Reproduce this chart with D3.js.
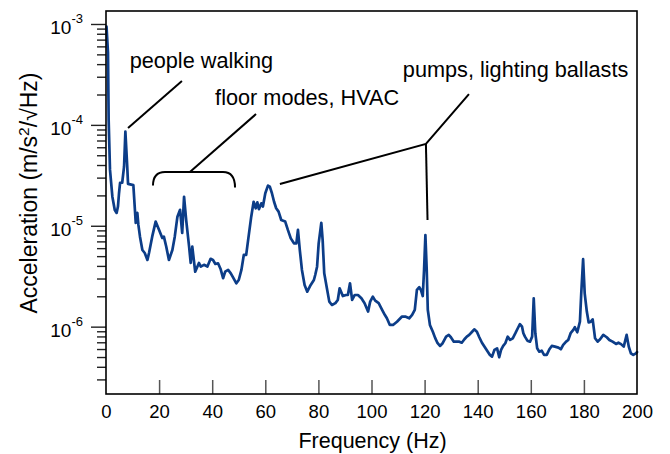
<!DOCTYPE html>
<html><head><meta charset="utf-8">
<script src="https://cdn.jsdelivr.net/npm/d3@7"></script>
<style>
body{margin:0;background:#fff}
svg{display:block}
text{font-family:"Liberation Sans",Arial,Helvetica,sans-serif;fill:#000}
</style>
</head><body>
<svg id="chart" width="670" height="454"></svg>
<script>
// ---- data ----
const freqHz = [
  0.2, 0.75, 1.0, 1.5, 2.4, 3.3, 4.0, 4.5, 4.9, 5.3, 6.1, 6.8, 7.3, 8.0, 8.3,
  10.3, 11.2, 11.8, 12.2, 12.8, 13.7, 14.6, 15.6, 16.2, 17.4, 18.7, 20.0,
  21.2, 21.8, 22.7, 23.7, 25.0, 25.9, 26.9, 27.9, 28.7, 29.4, 30.2, 31.3, 31.9, 32.5, 33.6, 35.0, 35.7, 36.9, 38.2, 39.4,
  40.3, 41.2, 42.2, 43.2, 44.1, 44.9, 46.0, 47.0, 47.8, 49.1, 50.0, 51.0, 51.9, 52.8, 53.7, 54.7, 55.6, 56.4, 57.0, 57.6, 58.5, 59.1,
  60.0, 61.0, 61.7, 62.5, 63.3, 64.1, 65.0, 66.0, 67.5, 68.5, 69.6, 70.8, 71.7, 72.3, 73.0, 73.8, 74.8, 75.8, 77.1, 78.3, 78.8, 79.5,
  80.1, 81.1, 81.6, 82.2, 83.2, 84.1, 85.1, 86.4, 87.3, 88.0, 89.2, 90.4, 91.1, 91.9, 92.7, 93.7, 94.9, 96.2, 97.4, 98.7, 99.5,
  100.5, 101.4, 102.7, 104.0, 105.0, 105.8, 106.9, 108.1, 109.6, 111.5, 112.7, 114.2, 115.3, 116.3, 117.1, 118.0, 118.6, 119.3, 119.8,
  120.3, 120.8, 121.2, 122.0, 123.1, 124.0, 124.9, 125.8, 126.8, 128.1, 129.1, 129.9, 131.0, 132.1, 133.1, 134.0, 135.0, 135.9, 136.8, 137.9, 138.7, 139.7,
  140.6, 141.6, 142.7, 143.8, 144.6, 145.4, 146.3, 147.3, 148.1, 148.8, 149.6, 150.4, 151.3, 152.2, 153.2, 154.2, 155.1, 155.9, 156.7, 157.2, 157.8, 158.7, 159.7,
  160.5, 161.1, 161.7, 162.4, 163.2, 164.1, 165.0, 166.0, 167.0, 167.9, 169.1, 170.4, 171.3, 172.2, 173.3, 174.1, 175.0, 176.0, 176.6, 177.5, 178.5, 179.0, 179.7,
  180.3, 181.1, 181.8, 182.6, 183.3, 184.2, 185.2, 186.1, 187.3, 188.6, 189.6, 190.8, 192.1, 193.0, 194.0, 195.0, 196.1, 196.9, 197.7, 198.6, 199.6, 200.0
];
const accel = [
  9.4e-4, 5.2e-4, 1.12e-4, 3.6e-5, 1.94e-5, 1.43e-5, 1.34e-5, 1.55e-5, 2.1e-5, 2.66e-5, 2.67e-5, 3.85e-5, 8.6e-5, 3.85e-5, 2.6e-5,
  2.53e-5, 1.07e-5, 1.34e-5, 1.02e-5, 7.8e-6, 5.75e-6, 5.37e-6, 4.58e-6, 5.37e-6, 7.8e-6, 1.10e-5, 9.1e-6,
  7.57e-6, 7.8e-6, 6.2e-6, 4.58e-6, 5.75e-6, 7.8e-6, 1.23e-5, 1.44e-5, 8.5e-6, 1.94e-5, 1.14e-5, 6.2e-6, 4.28e-6, 6.2e-6, 3.5e-6, 4.28e-6, 3.94e-6, 4.1e-6, 3.94e-6, 4.7e-6,
  4.58e-6, 4.18e-6, 4.25e-6, 3.7e-6, 3.02e-6, 3.51e-6, 3.65e-6, 3.38e-6, 3.09e-6, 2.69e-6, 2.9e-6, 3.65e-6, 5.14e-6, 5.14e-6, 7.8e-6, 1.23e-5, 1.73e-5, 1.49e-5, 1.71e-5, 1.46e-5, 1.67e-5, 1.55e-5,
  2.1e-5, 2.5e-5, 2.44e-5, 2.1e-5, 1.73e-5, 1.49e-5, 1.38e-5, 1.14e-5, 1.10e-5, 9.1e-6, 7.5e-6, 6.7e-6, 6.7e-6, 9.1e-6, 5.75e-6, 3.65e-6, 2.59e-6, 2.22e-6, 2.59e-6, 2.9e-6, 3.25e-6, 3.93e-6,
  6.7e-6, 1.07e-5, 7.2e-6, 3.38e-6, 2.4e-6, 1.77e-6, 1.64e-6, 1.71e-6, 1.84e-6, 2.4e-6, 2.01e-6, 2.06e-6, 2.06e-6, 2.69e-6, 1.84e-6, 2.06e-6, 2.06e-6, 1.91e-6, 1.71e-6, 1.41e-6, 1.77e-6,
  1.98e-6, 1.81e-6, 1.71e-6, 1.47e-6, 1.31e-6, 1.21e-6, 1.04e-6, 1.04e-6, 1.12e-6, 1.26e-6, 1.26e-6, 1.21e-6, 1.31e-6, 1.47e-6, 2.31e-6, 2.46e-6, 2.31e-6, 2.01e-6, 3.65e-6,
  8.1e-6, 3.65e-6, 1.47e-6, 1.04e-6, 8.9e-7, 7.7e-7, 6.85e-7, 6.44e-7, 6.85e-7, 7.96e-7, 8.28e-7, 7.85e-7, 7.1e-7, 7.1e-7, 7.1e-7, 6.93e-7, 7.5e-7, 7.96e-7, 8.28e-7, 8.9e-7, 9.4e-7, 8.9e-7,
  7.85e-7, 6.93e-7, 6.25e-7, 5.65e-7, 5.25e-7, 5.05e-7, 5.88e-7, 6.1e-7, 4.97e-7, 5.88e-7, 6.44e-7, 6.85e-7, 7.96e-7, 7.38e-7, 7.67e-7, 8.61e-7, 9.64e-7, 1.06e-6, 1.0e-6, 8.61e-7, 7.96e-7, 7.26e-7, 7.1e-7,
  7.96e-7, 1.91e-6, 8.61e-7, 6.1e-7, 5.65e-7, 5.78e-7, 5.25e-7, 5.25e-7, 5.97e-7, 6.44e-7, 6.34e-7, 6.2e-7, 5.97e-7, 6.59e-7, 7.1e-7, 7.38e-7, 8.61e-7, 9.27e-7, 9.86e-7, 8.8e-7, 1.12e-6, 2.14e-6, 4.66e-6,
  2.14e-6, 1.41e-6, 1.1e-6, 1.12e-6, 1.18e-6, 7.67e-7, 7.1e-7, 7.5e-7, 8.28e-7, 7.85e-7, 7.38e-7, 7.1e-7, 6.74e-7, 6.93e-7, 6.71e-7, 6.34e-7, 8.28e-7, 6.34e-7, 5.44e-7, 5.25e-7, 5.44e-7, 5.6e-7
];
const xTickValues = [0, 20, 40, 60, 80, 100, 120, 140, 160, 180, 200];
const yMajorTicks = [1e-3, 1e-4, 1e-5, 1e-6];
const yMajorExponents = ["-3", "-4", "-5", "-6"];
const xTitle = "Frequency (Hz)";
const annotationLabels = ["people walking", "floor modes, HVAC", "pumps, lighting ballasts"];
// label anchor positions (baseline start) in data units [Hz, acceleration]
const annotationLabelPos = [[8.9, 3.66e-4], [41.1, 1.57e-4], [111.8, 2.99e-4]];
// leader lines in data units
const leaderPeople = [[8.3, 9.3e-5], [28.6, 2.72e-4]];
const leaderFloor = [[31.6, 3.41e-5], [56.5, 1.28e-4]];
const leaderPumps = [[65.5, 2.59e-5], [120.5, 6.47e-5], [136.7, 2.02e-4]];
const leaderPumpsDown = [[120.5, 6.47e-5], [121.1, 1.14e-5]];
const floorBracket = {x0: 17.7, x1: 48.6, yTop: 3.41e-5, yEnd: 2.5e-5};

// ---- chart ----
const svg = d3.select("#chart");
const mLeft = 106, mRight = 637, mTop = 11, mBottom = 394;
const x = d3.scaleLinear().domain([0, 200]).range([mLeft, mRight]);
const y = d3.scaleLog().domain([2.15e-7, 1.345e-3]).range([mBottom, mTop]);

// minor ticks
const [dLo, dHi] = y.domain();
const yAllTicks = [];
for (let e = -7; e <= -3; e++) {
  for (let k = 1; k <= 9; k++) {
    const v = k * Math.pow(10, e);
    if (v >= dLo && v <= dHi) yAllTicks.push(v);
  }
}
const isMajor = v => yMajorTicks.some(m => Math.abs(m - v) / m < 1e-6);

// y axis (ticks outside, left)
const gy = svg.append("g").attr("transform", `translate(${mLeft},0)`)
  .call(d3.axisLeft(y).tickValues(yAllTicks).tickFormat(() => "").tickSizeOuter(0));
gy.select(".domain").remove();
gy.selectAll(".tick line")
  .attr("x2", d => isMajor(d) ? -15 : -9)
  .attr("stroke", "#222").attr("stroke-width", 1.4);

// y tick labels with superscripts
const yl = svg.append("g");
yMajorTicks.forEach((v, i) => {
  const t = yl.append("text")
    .attr("x", 83).attr("y", y(v) + 10)
    .attr("text-anchor", "end")
    .style("font-size", "19px");
  t.append("tspan").text("10");
  t.append("tspan").attr("dy", -11).style("font-size", "13px").text(yMajorExponents[i]);
});

// x axis (ticks inside, up)
const gx = svg.append("g").attr("transform", `translate(0,${mBottom})`)
  .call(d3.axisBottom(x).tickValues(xTickValues).tickSizeInner(-14).tickSizeOuter(0).tickPadding(11));
gx.select(".domain").remove();
gx.selectAll(".tick line").attr("stroke", "#555").attr("stroke-width", 1.5)
  .attr("display", d => (d === 0 || d === 200) ? "none" : null);
gx.selectAll(".tick text").style("font-size", "18.5px").attr("fill", "#000")
  .attr("font-family", null);

// data line
const pts = freqHz.map((f, i) => [f, accel[i]]);
svg.append("path")
  .datum(pts)
  .attr("fill", "none")
  .attr("stroke", "#0c3d88")
  .attr("stroke-width", 2.7)
  .attr("stroke-linejoin", "round")
  .attr("stroke-linecap", "round")
  .attr("d", d3.line().x(d => x(d[0])).y(d => y(d[1])));

// frame
svg.append("rect")
  .attr("x", mLeft).attr("y", mTop)
  .attr("width", mRight - mLeft).attr("height", mBottom - mTop)
  .attr("fill", "none").attr("stroke", "#000").attr("stroke-width", 1.6);

// annotations
const ann = svg.append("g").attr("fill", "none").attr("stroke", "#000").attr("stroke-width", 2);
const ln = d3.line().x(d => x(d[0])).y(d => y(d[1]));
ann.append("path").attr("d", ln(leaderPeople));
ann.append("path").attr("d", ln(leaderFloor));
ann.append("path").attr("d", ln(leaderPumps));
ann.append("path").attr("d", ln(leaderPumpsDown));
{
  const bx0 = x(floorBracket.x0), bx1 = x(floorBracket.x1);
  const byT = y(floorBracket.yTop), byE = y(floorBracket.yEnd);
  const r = 12;
  const p = d3.path();
  p.moveTo(bx0, byE);
  p.quadraticCurveTo(bx0, byT, bx0 + r, byT);
  p.lineTo(bx1 - r, byT);
  p.quadraticCurveTo(bx1, byT, bx1, byE + 2);
  ann.append("path").attr("d", p.toString());
}
annotationLabels.forEach((s, i) => {
  svg.append("text")
    .attr("x", x(annotationLabelPos[i][0]))
    .attr("y", y(annotationLabelPos[i][1]))
    .style("font-size", "21.7px")
    .text(s);
});

// axis titles
svg.append("text")
  .attr("x", (mLeft + mRight) / 2 + 1).attr("y", 448)
  .attr("text-anchor", "middle")
  .style("font-size", "21.5px")
  .text(xTitle);
const yt = svg.append("text")
  .attr("transform", `translate(37,${193}) rotate(-90)`)
  .attr("text-anchor", "middle")
  .style("font-size", "23px");
yt.append("tspan").text("Acceleration (m/s");
yt.append("tspan").attr("dy", -8).style("font-size", "15.5px").text("2");
yt.append("tspan").attr("dy", 8).text("/\u221AHz)");
</script>
</body></html>
